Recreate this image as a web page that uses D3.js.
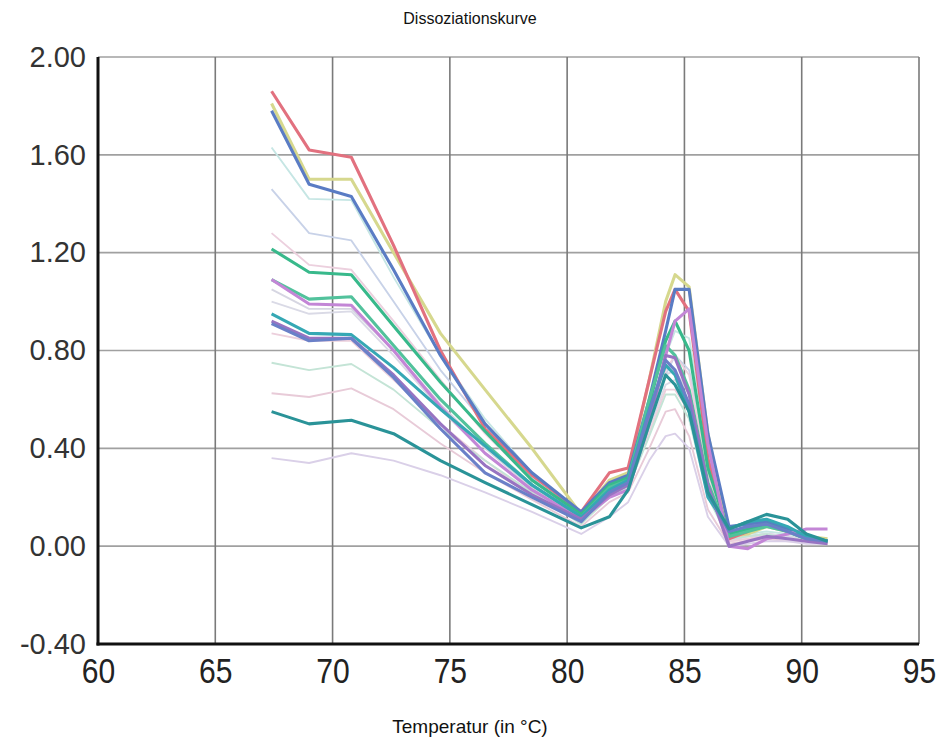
<!DOCTYPE html>
<html>
<head>
<meta charset="utf-8">
<script src="https://cdn.jsdelivr.net/npm/d3@7"></script>
<style>
  html, body { margin: 0; padding: 0; background: #fff; }
  svg { display: block; }
</style>
</head>
<body>
<svg id="chart" width="944" height="740"></svg>
<script>
// Melt-curve readings: temperature steps (°C) and the derivative signal per well
const temperatures = [67.4, 69.0, 70.8, 72.6, 74.6, 76.5, 78.5, 80.6, 81.8, 82.6, 83.5, 84.2, 84.6, 85.2, 86.0, 86.9, 87.7, 88.5, 89.4, 90.2, 91.1];

const yTicks = [-0.40, 0.00, 0.40, 0.80, 1.20, 1.60, 2.00];
const xTicks = [60, 65, 70, 75, 80, 85, 90, 95];

// faint wells
const wellF1 = [1.63, 1.42, 1.415, 1.10, 0.78, 0.52, 0.30, 0.12, 0.24, 0.27, 0.55, 0.78, 0.88, 0.85, 0.40, 0.05, 0.05, 0.06, 0.05, 0.03, 0.02];
const wellF2 = [1.46, 1.28, 1.25, 1.00, 0.72, 0.50, 0.28, 0.12, 0.22, 0.25, 0.50, 0.70, 0.78, 0.72, 0.35, 0.05, 0.04, 0.05, 0.04, 0.03, 0.02];
const wellF3 = [1.28, 1.15, 1.13, 0.92, 0.68, 0.46, 0.27, 0.12, 0.22, 0.26, 0.50, 0.72, 0.78, 0.70, 0.30, 0.02, 0.03, 0.05, 0.04, 0.03, 0.02];
const wellF4 = [1.05, 0.97, 0.97, 0.80, 0.58, 0.40, 0.24, 0.11, 0.21, 0.25, 0.50, 0.70, 0.72, 0.62, 0.26, 0.03, 0.04, 0.05, 0.04, 0.03, 0.02];
const wellF5 = [1.00, 0.95, 0.96, 0.78, 0.56, 0.38, 0.23, 0.11, 0.20, 0.24, 0.48, 0.66, 0.68, 0.58, 0.24, 0.02, 0.04, 0.05, 0.04, 0.03, 0.02];
const wellF6 = [0.87, 0.84, 0.84, 0.68, 0.50, 0.35, 0.21, 0.10, 0.20, 0.24, 0.46, 0.64, 0.64, 0.55, 0.22, 0.02, 0.03, 0.04, 0.03, 0.02, 0.01];
const wellF7 = [0.75, 0.72, 0.745, 0.64, 0.48, 0.35, 0.22, 0.09, 0.20, 0.24, 0.45, 0.62, 0.62, 0.52, 0.20, 0.03, 0.04, 0.05, 0.03, 0.02, 0.01];
const wellF8 = [0.625, 0.61, 0.645, 0.56, 0.42, 0.30, 0.19, 0.08, 0.18, 0.22, 0.40, 0.55, 0.56, 0.45, 0.15, 0.01, 0.02, 0.03, 0.02, 0.02, 0.01];
const wellF9 = [0.36, 0.34, 0.38, 0.35, 0.29, 0.22, 0.14, 0.05, 0.12, 0.18, 0.35, 0.45, 0.46, 0.40, 0.12, 0.00, 0.01, 0.02, 0.02, 0.01, 0.01];

// strong wells
const wellRed    = [1.86, 1.62, 1.59, 1.23, 0.80, 0.48, 0.29, 0.14, 0.30, 0.32, 0.68, 0.96, 1.05, 0.96, 0.36, 0.03, 0.06, 0.10, 0.07, 0.04, 0.02];
const wellOlive  = [1.81, 1.50, 1.50, 1.20, 0.87, 0.64, 0.40, 0.13, 0.27, 0.30, 0.68, 1.00, 1.11, 1.06, 0.46, 0.04, 0.05, 0.08, 0.06, 0.04, 0.03];
const wellBlue   = [1.78, 1.48, 1.43, 1.13, 0.78, 0.50, 0.30, 0.14, 0.26, 0.29, 0.60, 0.88, 1.05, 1.05, 0.46, 0.08, 0.09, 0.10, 0.07, 0.04, 0.02];
const wellGreen  = [1.215, 1.12, 1.11, 0.90, 0.67, 0.47, 0.27, 0.13, 0.25, 0.28, 0.58, 0.84, 0.92, 0.80, 0.32, 0.05, 0.07, 0.09, 0.06, 0.03, 0.02];
const wellGreen2 = [1.09, 1.01, 1.02, 0.82, 0.60, 0.42, 0.25, 0.12, 0.24, 0.27, 0.60, 0.82, 0.78, 0.64, 0.26, 0.04, 0.06, 0.08, 0.06, 0.03, 0.02];
const wellPurple = [1.09, 0.99, 0.985, 0.80, 0.57, 0.38, 0.23, 0.11, 0.20, 0.23, 0.50, 0.78, 0.92, 0.97, 0.42, 0.00, -0.01, 0.03, 0.05, 0.07, 0.07];
const wellTeal   = [0.95, 0.87, 0.865, 0.73, 0.56, 0.41, 0.25, 0.12, 0.23, 0.27, 0.56, 0.74, 0.70, 0.55, 0.20, 0.07, 0.10, 0.11, 0.08, 0.04, 0.02];
const wellViolet = [0.92, 0.85, 0.85, 0.70, 0.50, 0.33, 0.21, 0.11, 0.21, 0.25, 0.52, 0.78, 0.77, 0.62, 0.25, 0.00, 0.02, 0.04, 0.03, 0.02, 0.01];
const wellBlue2  = [0.91, 0.84, 0.85, 0.69, 0.48, 0.30, 0.20, 0.10, 0.22, 0.26, 0.55, 0.76, 0.72, 0.58, 0.22, 0.06, 0.08, 0.09, 0.06, 0.03, 0.02];
const wellTealDk = [0.55, 0.50, 0.515, 0.46, 0.35, 0.26, 0.17, 0.075, 0.12, 0.23, 0.50, 0.70, 0.66, 0.55, 0.22, 0.07, 0.10, 0.13, 0.11, 0.05, 0.02];

const faintWells = [wellF1, wellF2, wellF3, wellF4, wellF5, wellF6, wellF7, wellF8, wellF9];
const faintColors = ["#c6e6e4", "#c8d2e8", "#ecd0de", "#d6d6e2", "#dadae6", "#eccfdc", "#c4e4d6", "#e8cbd8", "#dad0e8"];

const strongWells = [wellOlive, wellRed, wellBlue, wellGreen, wellGreen2, wellPurple, wellTeal, wellViolet, wellBlue2, wellTealDk];
const strongColors = ["#d6d88e", "#e2717f", "#5a7cc4", "#38b98b", "#52c29c", "#c386d6", "#35a8b4", "#9874c2", "#6a80c8", "#2a9398"];

const svg = d3.select("#chart");
const plotLeft = 98, plotRight = 919, plotTop = 57, plotBottom = 644;

const x = d3.scaleLinear().domain([60, 95]).range([plotLeft, plotRight]);
const y = d3.scaleLinear().domain([-0.40, 2.00]).range([plotBottom, plotTop]);

// grid
svg.append("g").selectAll("line")
  .data(yTicks.filter(t => t > -0.40))
  .join("line")
  .attr("x1", plotLeft).attr("x2", plotRight)
  .attr("y1", d => y(d)).attr("y2", d => y(d))
  .attr("stroke", "#a0a0a0").attr("stroke-width", 1.6);

svg.append("g").selectAll("line")
  .data(xTicks.filter(t => t > 60))
  .join("line")
  .attr("x1", d => x(d)).attr("x2", d => x(d))
  .attr("y1", plotTop).attr("y2", plotBottom)
  .attr("stroke", "#7a7a7a").attr("stroke-width", 1.6);

// curves
const line = d3.line()
  .x((d, i) => x(temperatures[i]))
  .y(d => y(d));

svg.append("g").selectAll("path")
  .data(faintWells)
  .join("path")
  .attr("d", line)
  .attr("fill", "none")
  .attr("stroke", (d, i) => faintColors[i])
  .attr("stroke-width", 1.9)
  .attr("stroke-linejoin", "round");

svg.append("g").selectAll("path")
  .data(strongWells)
  .join("path")
  .attr("d", line)
  .attr("fill", "none")
  .attr("stroke", (d, i) => strongColors[i])
  .attr("stroke-width", 3.1)
  .attr("stroke-linejoin", "round");

// axes
const fmt2 = d3.format(".2f");
const yAxis = d3.axisLeft(y).tickValues(yTicks)
  .tickFormat(d => fmt2(d).replace("\u2212", "-"))
  .tickSize(0).tickPadding(12);
const gy = svg.append("g").attr("transform", `translate(${plotLeft},0)`).call(yAxis);
gy.select(".domain").remove();
gy.selectAll("text")
  .attr("font-family", "Liberation Sans, Arial, sans-serif")
  .attr("font-size", 29)
  .attr("fill", "#333");

const xAxis = d3.axisBottom(x).tickValues(xTicks).tickFormat(d3.format("d")).tickSize(0).tickPadding(14);
const gx = svg.append("g").attr("transform", `translate(0,${plotBottom})`).call(xAxis);
gx.select(".domain").remove();
gx.selectAll("text")
  .attr("font-family", "Liberation Sans, Arial, sans-serif")
  .attr("font-size", 35)
  .attr("transform", "scale(0.86,1)")
  .attr("fill", "#222");

svg.append("line")
  .attr("x1", plotLeft).attr("x2", plotLeft).attr("y1", plotTop).attr("y2", plotBottom + 1.5)
  .attr("stroke", "#111").attr("stroke-width", 3);
svg.append("line")
  .attr("x1", plotLeft - 1.5).attr("x2", plotRight).attr("y1", plotBottom).attr("y2", plotBottom)
  .attr("stroke", "#111").attr("stroke-width", 3);

// titles
svg.append("text")
  .attr("x", 470).attr("y", 24)
  .attr("text-anchor", "middle")
  .attr("font-family", "Liberation Sans, Arial, sans-serif")
  .attr("font-size", 16)
  .attr("fill", "#111")
  .text("Dissoziationskurve");

svg.append("text")
  .attr("x", 470).attr("y", 733)
  .attr("text-anchor", "middle")
  .attr("font-family", "Liberation Sans, Arial, sans-serif")
  .attr("font-size", 19)
  .attr("fill", "#111")
  .text("Temperatur (in °C)");
</script>
</body>
</html>
